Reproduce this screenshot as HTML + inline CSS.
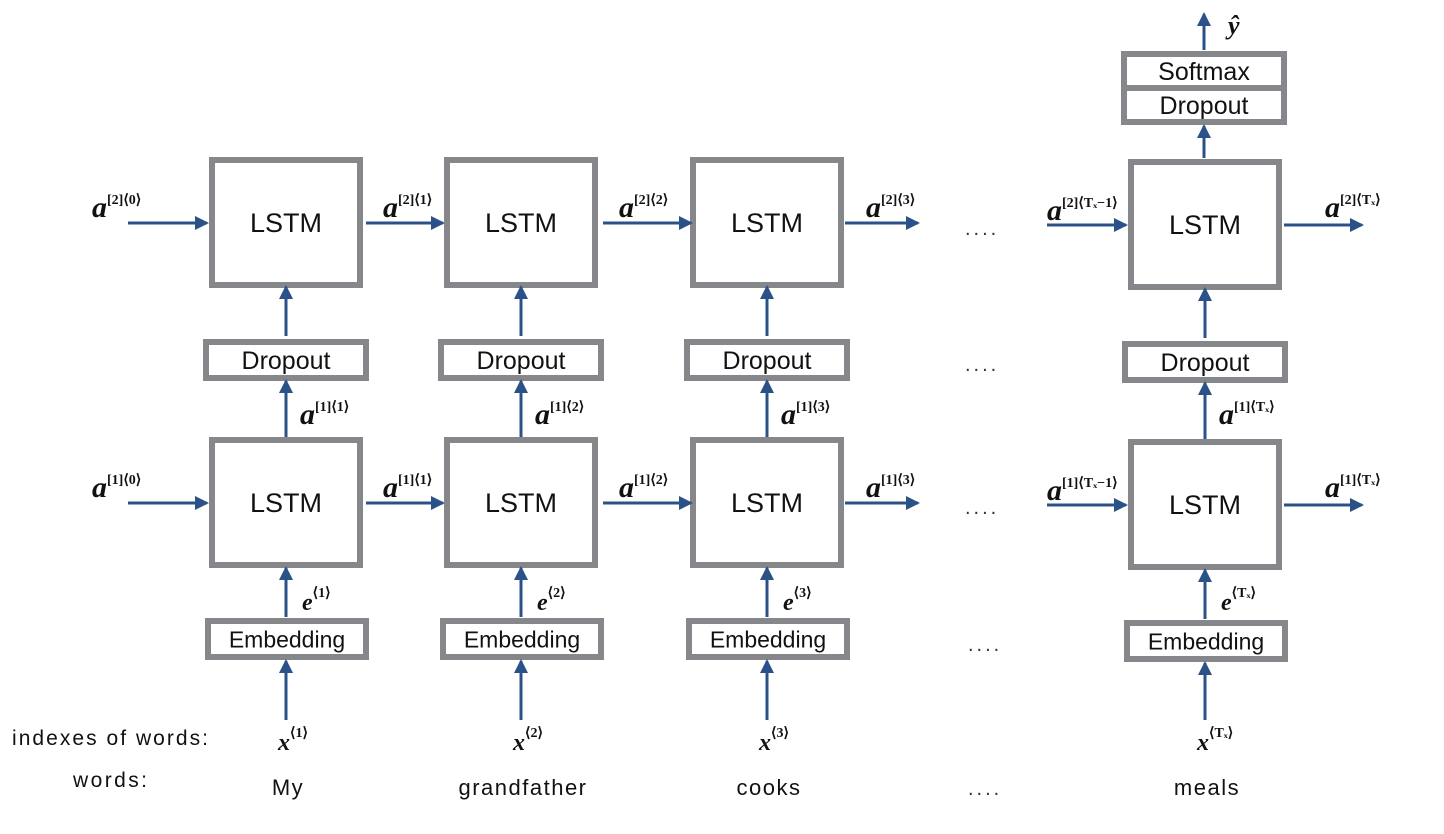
<!DOCTYPE html>
<html><head><meta charset="utf-8"><style>
html,body{margin:0;padding:0;background:#fff;}
svg{display:block;}
.box{fill:#fff;stroke:#85878b;stroke-width:6;}
.lbl{font-family:"Liberation Sans",sans-serif;fill:#111;}
.m{font-family:"Liberation Serif",serif;font-weight:bold;font-style:italic;fill:#111;}
.s{font-family:"Liberation Serif",serif;font-size:14px;fill:#111;}
.dots{font-family:"Liberation Sans",sans-serif;font-size:20px;fill:#333;letter-spacing:3px;}
</style></head><body>
<svg id="d" width="1444" height="834" viewBox="0 0 1444 834">
<defs><marker id="ah" markerWidth="14" markerHeight="14" refX="12" refY="7" orient="auto" markerUnits="userSpaceOnUse"><path d="M0,0 L14,7 L0,14 z" fill="#2b5288"/></marker></defs>
</svg>
<script>
const cols=[286,521,767,1205];
const words=["My","grandfather","cooks","meals"];
const idx=["1","2","3","Tₓ"];
const svg=document.getElementById('d');
const NS="http://www.w3.org/2000/svg";
function el(t,a,txt){const e=document.createElementNS(NS,t);for(const k in a)e.setAttribute(k,a[k]);if(txt!==undefined)e.textContent=txt;svg.appendChild(e);return e;}
function txt(x,y,s,name,fs,anchor,extra){
 const t=el('text',Object.assign({x:x,y:y,class:'lbl','font-size':fs,style:'text-anchor:'+(anchor||'middle')},extra||{}),s);
 
 
}
function box(x,y,w,h,name,text,fs){
 const g=el('rect',{x:x,y:y,width:w,height:h,class:'box'});
 
 
 if(text){txt(x+w/2,y+h/2+fs*0.36,text,name+'-label',fs);}
}
function arrow(x1,y1,x2,y2,name){
 const l=el('line',{x1:x1,y1:y1,x2:x2,y2:y2,stroke:'#2b5288','stroke-width':3,'marker-end':'url(#ah)'});
 
 
}
function math(x,y,base,sup,name,fs){
 const t=el('text',{x:x,y:y,class:'m','font-size':fs||30});
 
 
 const b=document.createElementNS(NS,'tspan');b.textContent=base;t.appendChild(b);
 const s=document.createElementNS(NS,'tspan');s.setAttribute('dy','-13');s.setAttribute('class','s');s.setAttribute('font-weight','bold');s.setAttribute('font-style','normal');s.textContent=sup;t.appendChild(s);
}
cols.forEach((cx,i)=>{
 const n=i+1;
 const o=i==3?2:0;
 box(cx-74,160+o,148,125,'lstm-layer2-'+n,'LSTM',27);
 box(cx-80,342+o,160,36,'dropout-'+n,'Dropout',25);
 box(cx-74,440+o,148,125,'lstm-layer1-'+n,'LSTM',27);
 box(cx-78,621+o,158,36,'embedding-'+n,'Embedding',23);
 arrow(cx,336+o,cx,287+o,'arrow-dropout-to-lstm2-'+n);
 arrow(cx,437+o,cx,381+o,'arrow-lstm1-to-dropout-'+n);
 arrow(cx,617+o,cx,568+o,'arrow-emb-to-lstm1-'+n);
 arrow(cx,720,cx,661+o,'arrow-x-to-emb-'+n);
 math(cx+14,424,'a','[1]⟨'+idx[i]+'⟩','label-a1-'+n);
 math(cx+16,610,'e','⟨'+idx[i]+'⟩','label-e-'+n,24);
 math(cx-8,750,'x','⟨'+idx[i]+'⟩','label-x-'+n,24);
 txt(cx+2,795,words[i],'word-'+n,22,'middle',{'letter-spacing':'1.5'});
});
[[128,207],[366,443],[603,691],[845,918],[1047,1126],[1284,1362]].forEach((p,j)=>{
 arrow(p[0],j>=4?225:223,p[1],j>=4?225:223,'arrow-h2-'+j);
 arrow(p[0],j>=4?505:503,p[1],j>=4?505:503,'arrow-h1-'+j);
});
const l2=['0','1','2','3','Tₓ−1','Tₓ'],lx=[92,383,619,866,1047,1325];
lx.forEach((x,j)=>{math(x,j==4?220:217,'a','[2]⟨'+l2[j]+'⟩','label-a2-'+j);math(x,j==4?500:497,'a','[1]⟨'+l2[j]+'⟩','label-a1h-'+j);});
[[965,235],[965,371],[965,514],[968,651],[968,795]].forEach((p,j)=>{const t=el('text',{x:p[0],y:p[1],class:'dots'},'....');});
box(1124,54,160,68,'output-block',null,0);
el('line',{x1:1124,y1:88,x2:1284,y2:88,stroke:'#85878b','stroke-width':6});
txt(1204,80,'Softmax','softmax-label',25);
txt(1204,114,'Dropout','output-dropout-label',25);
arrow(1204,158,1204,126,'arrow-lstm-to-output');
arrow(1204,50,1204,14,'arrow-to-yhat');
const y=el('text',{x:1228,y:34,class:'m','font-size':26,'font-weight':'normal'},'ŷ');


txt(12,745,'indexes of words:','indexes-row-label',21,'start',{textLength:'196',lengthAdjust:'spacing'});
txt(73,787,'words:','words-row-label',21,'start',{textLength:'74',lengthAdjust:'spacing'});
</script>
</body></html>
